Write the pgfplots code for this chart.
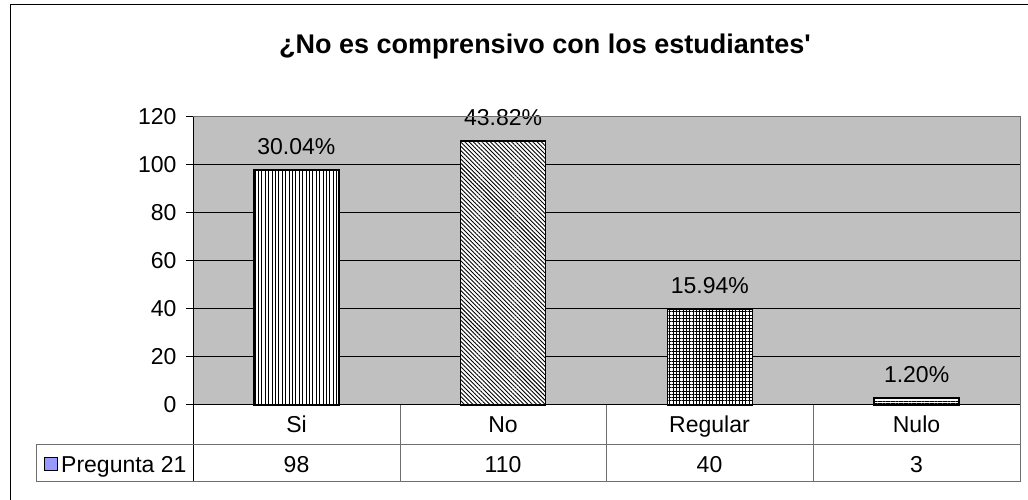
\documentclass[border=0pt]{standalone}
\usepackage{fontspec}
\setmainfont{Liberation Sans}
\usepackage{pgfplots}
\pgfplotsset{compat=1.18}
\usetikzlibrary{patterns,patterns.meta}
\definecolor{plotgray}{RGB}{192,192,192}
\definecolor{edgegray}{RGB}{110,110,110}
\definecolor{keyblue}{RGB}{153,153,255}
\newcommand\lbl{\fontsize{23bp}{27bp}\selectfont}

\begin{document}
\begin{tikzpicture}
\useasboundingbox (0,0) rectangle (1028bp,500bp);
% outer chart frame (cut off at right and bottom)
\draw[black, line width=1bp] (10bp,-10bp) -- (10bp,495bp) -- (1040bp,495bp);
\node[anchor=base, font={\fontsize{27bp}{31bp}\selectfont\bfseries}] at (545bp,446bp)
  {¿No es comprensivo con los estudiantes\textquotesingle};

\begin{axis}[
  at={(193bp,95bp)}, anchor=south west,
  scale only axis, width=827bp, height=288bp,
  xmin=-0.5, xmax=3.5, ymin=0, ymax=120,
  ybar, bar width=85bp, clip=false,
  xtick=\empty, ytick={0,20,...,120}, ytick pos=left,
  tick align=outside, major tick length=7bp,
  tick style={black, line width=1bp},
  ymajorgrids, major grid style={black, line width=1bp},
  axis line style={draw=none},
  axis background/.style={fill=plotgray},
  tick label style={font=\lbl, /pgf/number format/assume math mode=true},
  yticklabel style={xshift=-6bp},
  point meta=explicit symbolic,
  nodes near coords,
  every node near coord/.append style={font=\lbl, black, yshift=11bp},
]
\addplot[bar shift=0pt, draw=black, line width=1.5bp, preaction={fill=white},
  pattern={Lines[angle=90, distance=3.4bp, line width=0.9bp]}]
  coordinates {(0,98) [30.04\%]};
\addplot[bar shift=0pt, draw=black, line width=1.5bp, preaction={fill=white},
  pattern={Lines[angle=-45, distance=3bp, line width=0.9bp]}]
  coordinates {(1,110) [43.82\%]};
\addplot[bar shift=0pt, draw=black, line width=1.5bp, preaction={fill=white},
  pattern={Hatch[angle=0, distance=3.3bp, line width=1bp]}]
  coordinates {(2,40) [15.94\%]};
\addplot[bar shift=0pt, draw=black, line width=1.5bp, preaction={fill=white},
  pattern={Lines[angle=0, distance=2.6bp, line width=1.2bp]}]
  coordinates {(3,3) [1.20\%]};
\end{axis}

% plot area border and data table
\draw[edgegray, line width=1bp] (193bp,383bp) -- (1020bp,383bp) -- (1020bp,18bp);
\draw[black, line width=1bp] (193bp,383bp) -- (193bp,18bp);
\draw[black, line width=1bp] (193bp,95bp) -- (1020bp,95bp);
\draw[edgegray, line width=1bp] (36bp,55bp) -- (1020bp,55bp);
\draw[edgegray, line width=1bp] (36bp,18bp) -- (1020bp,18bp);
\draw[edgegray, line width=1bp] (36bp,55bp) -- (36bp,18bp);
\foreach \x in {400,606,813} \draw[edgegray, line width=1bp] (\x bp,95bp) -- (\x bp,18bp);

\foreach \x/\c/\v in {296.5/Si/98, 503/No/110, 709.5/Regular/40, 916.5/Nulo/3} {
  \node[anchor=base, font=\lbl, inner sep=0pt] at (\x bp,67bp) {\c};
  \node[anchor=base, font=\lbl, inner sep=0pt] at (\x bp,28bp) {\v};
}
\draw[black, fill=keyblue, line width=1bp] (44bp,29bp) rectangle (57bp,42bp);
\node[anchor=base west, font=\lbl, inner sep=0pt] at (61bp,28bp) {Pregunta 21};
\end{tikzpicture}
\end{document}
